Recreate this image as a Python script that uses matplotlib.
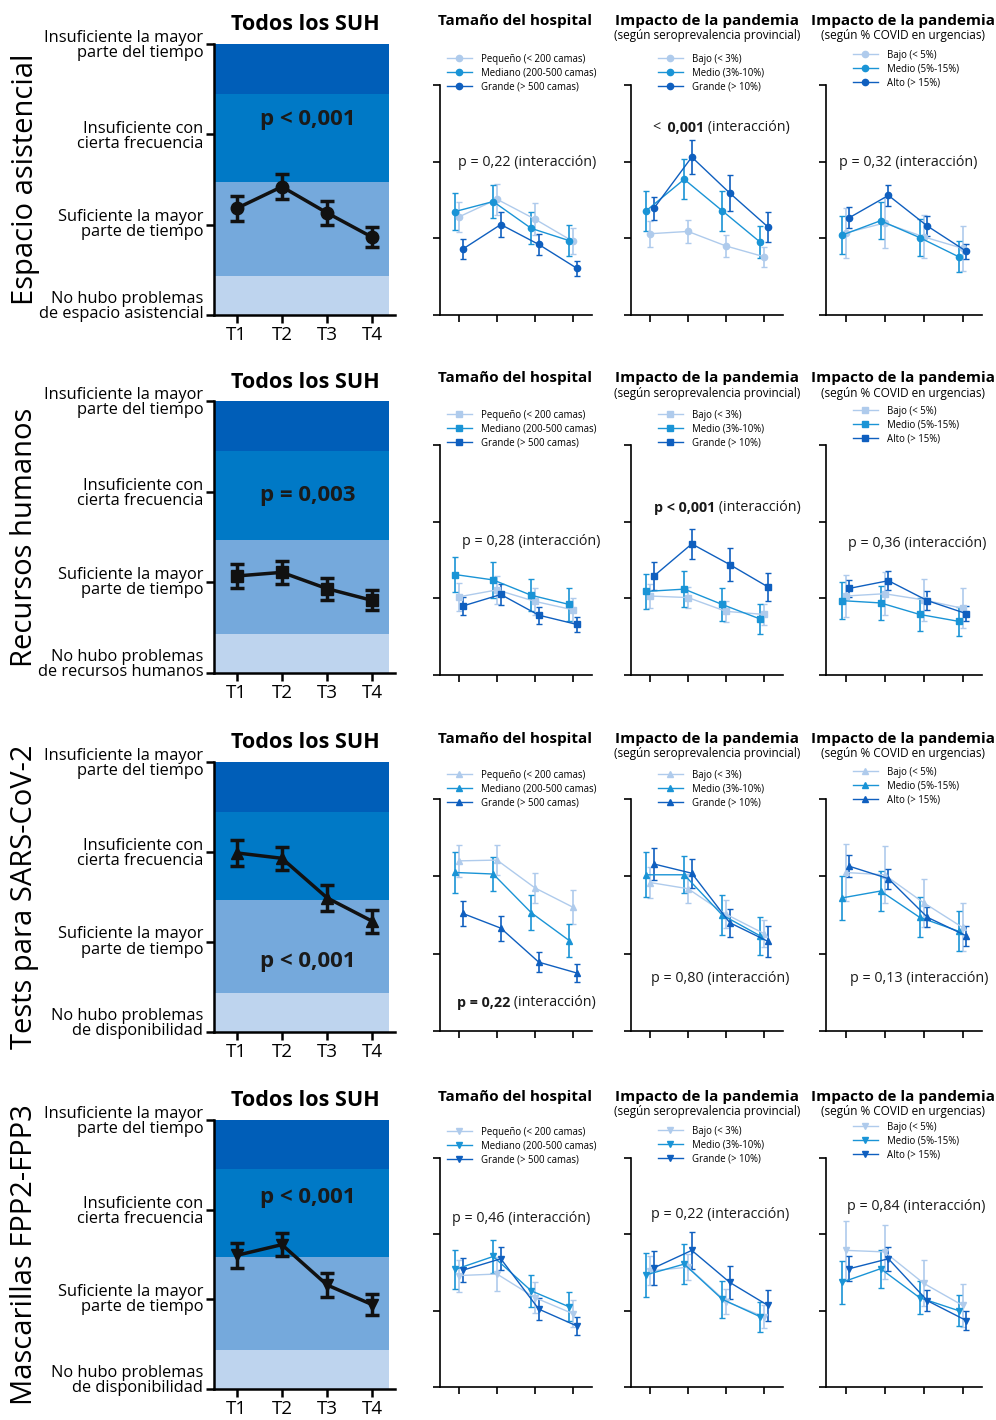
import matplotlib.pyplot as plt
import numpy as np
from matplotlib.lines import Line2D

plt.rcParams['font.family'] = ['Open Sans', 'DejaVu Sans']

W, H = 996, 1420

tiempos = ['T1', 'T2', 'T3', 'T4']
filas = ['Espacio asistencial', 'Recursos humanos', 'Tests para SARS-CoV-2', 'Mascarillas FPP2-FPP3']
marcadores = ['o', 's', '^', 'v']
p_global = ['p < 0,001', 'p = 0,003', 'p < 0,001', 'p < 0,001']

categorias = ['Insuficiente la mayor\nparte del tiempo', 'Insuficiente con\ncierta frecuencia',
              'Suficiente la mayor\nparte de tiempo']
ultima_categoria = ['No hubo problemas\nde espacio asistencial', 'No hubo problemas\nde recursos humanos',
                    'No hubo problemas\nde disponibilidad', 'No hubo problemas\nde disponibilidad']

# fondo de los paneles "Todos los SUH"
bandas = [(1.0, 1.43), (1.43, 2.47), (2.47, 3.45), (3.45, 4.0)]
bandas_color = ['#BED4EE', '#75A9DC', '#0079C6', '#005EB8']

# Todos los SUH (media, semiamplitud IC)
todos_media = [[2.18, 2.42, 2.13, 1.86], [2.07, 2.11, 1.93, 1.80],
               [2.99, 2.93, 2.49, 2.23], [2.49, 2.61, 2.16, 1.94]]
todos_err = [[0.14, 0.14, 0.13, 0.11], [0.13, 0.13, 0.12, 0.11],
             [0.14, 0.13, 0.14, 0.13], [0.14, 0.13, 0.13, 0.12]]

# Tamaño del hospital: Pequeño, Mediano, Grande
tam_media = [
    [[2.28, 2.51, 2.25, 1.96], [2.35, 2.48, 2.13, 1.97], [1.86, 2.18, 1.92, 1.61]],
    [[2.02, 2.11, 1.96, 1.85], [2.31, 2.24, 2.04, 1.92], [1.90, 2.05, 1.78, 1.66]],
    [[3.20, 3.21, 2.85, 2.60], [3.05, 3.03, 2.53, 2.17], [2.52, 2.33, 1.89, 1.75]],
    [[2.46, 2.48, 2.17, 1.96], [2.54, 2.71, 2.26, 2.05], [2.53, 2.68, 2.02, 1.80]],
]
tam_err = [
    [[0.20, 0.20, 0.21, 0.17], [0.24, 0.22, 0.21, 0.20], [0.13, 0.16, 0.14, 0.10]],
    [[0.18, 0.18, 0.18, 0.16], [0.23, 0.23, 0.21, 0.21], [0.12, 0.14, 0.11, 0.10]],
    [[0.21, 0.19, 0.19, 0.22], [0.26, 0.22, 0.23, 0.21], [0.16, 0.16, 0.13, 0.12]],
    [[0.21, 0.22, 0.20, 0.18], [0.25, 0.22, 0.21, 0.19], [0.16, 0.15, 0.14, 0.12]],
]

# Seroprevalencia provincial: Bajo, Medio, Grande
sero_media = [
    [[2.06, 2.09, 1.90, 1.76], [2.36, 2.77, 2.36, 1.95], [2.39, 3.06, 2.59, 2.15]],
    [[2.03, 2.01, 1.83, 1.79], [2.09, 2.12, 1.92, 1.73], [2.29, 2.71, 2.44, 2.15]],
    [[2.92, 2.84, 2.51, 2.26], [3.02, 3.02, 2.50, 2.23], [3.16, 3.04, 2.40, 2.16]],
    [[2.52, 2.57, 2.12, 1.92], [2.47, 2.61, 2.15, 1.92], [2.56, 2.79, 2.37, 2.07]],
]
sero_err = [
    [[0.17, 0.15, 0.14, 0.13], [0.26, 0.26, 0.26, 0.21], [0.15, 0.22, 0.23, 0.20]],
    [[0.16, 0.14, 0.14, 0.14], [0.23, 0.23, 0.22, 0.20], [0.18, 0.20, 0.22, 0.18]],
    [[0.20, 0.19, 0.18, 0.18], [0.29, 0.24, 0.26, 0.25], [0.21, 0.19, 0.18, 0.20]],
    [[0.19, 0.17, 0.16, 0.15], [0.29, 0.26, 0.24, 0.20], [0.22, 0.24, 0.22, 0.20]],
]

# % COVID en urgencias: Bajo, Medio, Alto
covid_media = [
    [[2.07, 2.20, 2.02, 1.87], [2.04, 2.23, 2.01, 1.76], [2.27, 2.56, 2.16, 1.83]],
    [[2.03, 2.06, 1.98, 1.87], [1.97, 1.94, 1.79, 1.70], [2.13, 2.23, 1.97, 1.80]],
    [[3.05, 3.02, 2.66, 2.34], [2.72, 2.81, 2.47, 2.29], [3.13, 2.97, 2.47, 2.23]],
    [[2.79, 2.77, 2.36, 2.07], [2.37, 2.55, 2.17, 2.00], [2.55, 2.68, 2.13, 1.87]],
]
covid_err = [
    [[0.32, 0.33, 0.28, 0.29], [0.25, 0.24, 0.24, 0.20], [0.14, 0.14, 0.13, 0.10]],
    [[0.28, 0.28, 0.27, 0.26], [0.24, 0.22, 0.22, 0.19], [0.11, 0.12, 0.12, 0.10]],
    [[0.37, 0.37, 0.31, 0.31], [0.29, 0.26, 0.26, 0.26], [0.14, 0.13, 0.13, 0.13]],
    [[0.38, 0.35, 0.30, 0.28], [0.28, 0.25, 0.22, 0.20], [0.16, 0.16, 0.14, 0.12]],
]

leg_tam = ['Pequeño (< 200 camas)', 'Mediano (200-500 camas)', 'Grande (> 500 camas)']
leg_sero = ['Bajo (< 3%)', 'Medio (3%-10%)', 'Grande (> 10%)']
leg_covid = ['Bajo (< 5%)', 'Medio (5%-15%)', 'Alto (> 15%)']

titulos = ['Tamaño del hospital', 'Impacto de la pandemia', 'Impacto de la pandemia']
subtitulos = ['', '(según seroprevalencia provincial)', '(según % COVID en urgencias)']

# textos de interacción: partes (texto, peso)
p_inter = [
    [[('p = 0,22 (interacción)', 'normal')],
     [('<', 'normal'), ('  0,001', 'bold'), (' (interacción)', 'normal')],
     [('p = 0,32 (interacción)', 'normal')]],
    [[('p = 0,28 (interacción)', 'normal')],
     [('p < 0,001', 'bold'), (' (interacción)', 'normal')],
     [('p = 0,36 (interacción)', 'normal')]],
    [[('p = 0,22', 'bold'), (' (interacción)', 'normal')],
     [('p = 0,80 (interacción)', 'normal')],
     [('p = 0,13 (interacción)', 'normal')]],
    [[('p = 0,46 (interacción)', 'normal')],
     [('p = 0,22 (interacción)', 'normal')],
     [('p = 0,84 (interacción)', 'normal')]],
]
p_inter_pos = [[(458, 162), (652, 128), (839, 162)],
               [(462, 541), (654, 508), (848, 544)],
               [(457, 1003), (651, 979), (850, 979)],
               [(452, 1219), (651, 1215), (847, 1206)]]

colores = ['#AFCBEC', '#1A94D6', '#0F5FBF']
desplaz = [0.0, -0.1, 0.1]

# posiciones en pixeles
big_top = [44, 401, 762, 1120]
big_bot = [315, 673, 1032, 1389]
small_top = [85, 445, 799, 1158]
small_bot = [315, 675, 1031, 1387]
col_left = [440, 631, 826]
col_right = [592, 783, 982]
leg_pos = [[(447, 73), (658, 73), (853, 69)],
           [(447, 429), (658, 429), (853, 425)],
           [(447, 789), (658, 789), (853, 786)],
           [(447, 1146), (658, 1145), (853, 1141)]]


def fx(px):
    return px / W


def fy(py):
    return 1 - py / H


def caja(l, t, r, b):
    return [fx(l), fy(b), (r - l) / W, (b - t) / H]


def texto_mixto(ax, px, py, partes, size):
    s, w = partes[0]
    t = ax.annotate(s, xy=(fx(px), fy(py)), xycoords='figure fraction', ha='left', va='center',
                    fontsize=size, fontweight=w, color='#1a1a1a', annotation_clip=False)
    for s, w in partes[1:]:
        t = ax.annotate(s, xy=(1, 0), xycoords=t, ha='left', va='bottom',
                        fontsize=size, fontweight=w, color='#1a1a1a', annotation_clip=False)


fig = plt.figure(figsize=(W / 100, H / 100), dpi=100)
x = np.arange(1, 5)

for r in range(4):
    # panel Todos los SUH
    ax = fig.add_axes(caja(214, big_top[r], 395, big_bot[r]))
    for (lo, hi), c in zip(bandas, bandas_color):
        ax.axhspan(lo, hi, xmin=0, xmax=0.967, color=c, lw=0, zorder=0)
    ax.errorbar(x, todos_media[r], yerr=todos_err[r], fmt=marcadores[r] + '-', color='#111111',
                lw=2.5, ms=9, capsize=5, capthick=2.5, elinewidth=2.5, zorder=3)
    ax.set_xlim(0.5, 4.5)
    ax.set_ylim(1, 4)
    ax.set_xticks(x)
    ax.set_xticklabels(tiempos, fontsize=13.5)
    ax.set_yticks([1, 2, 3, 4])
    ax.set_yticklabels([])
    for s in ['top', 'right']:
        ax.spines[s].set_visible(False)
    for s in ['left', 'bottom']:
        ax.spines[s].set_linewidth(1.8)
    ax.tick_params(axis='both', direction='out', length=6, width=1.8, pad=2)
    etiquetas = [ultima_categoria[r]] + categorias[::-1]
    ajustes = [0.09, 0.0, -0.02, -0.02]
    for v, lab, d in zip([1, 2, 3, 4], etiquetas, ajustes):
        ax.text(-0.06, v + d, lab, transform=ax.get_yaxis_transform(), ha='right', va='center',
                fontsize=11.8, linespacing=0.92, multialignment='right')
    fig.text(fx(305), fy(big_top[r] - 19), 'Todos los SUH', ha='center', va='center',
             fontsize=15.5, fontweight='bold')
    fig.text(fx(308), fy([119, 496, 962, 1198][r]), p_global[r], ha='center', va='center',
             fontsize=16, fontweight='bold', color='#1a1a1a')
    fig.text(fx(25), fy((big_top[r] + big_bot[r]) / 2), filas[r], rotation=90, ha='center',
             va='center', fontsize=21)

    # paneles por subgrupo
    grupos = [(tam_media[r], tam_err[r], leg_tam), (sero_media[r], sero_err[r], leg_sero),
              (covid_media[r], covid_err[r], leg_covid)]
    for c, (medias, errores, nombres) in enumerate(grupos):
        axs = fig.add_axes(caja(col_left[c], small_top[r], col_right[c], small_bot[r]))
        handles = []
        for k in range(3):
            axs.errorbar(x + desplaz[k], medias[k], yerr=errores[k], fmt=marcadores[r] + '-',
                         color=colores[k], lw=1, ms=4.5, capsize=2.2, capthick=1, elinewidth=1.2)
            handles.append(Line2D([], [], color=colores[k], marker=marcadores[r], lw=1, ms=4.5))
        axs.set_xlim(0.5, 4.5)
        axs.set_ylim(1, 4)
        axs.set_xticks(x)
        axs.set_yticks([1, 2, 3, 4])
        axs.set_xticklabels([])
        axs.set_yticklabels([])
        for s in ['top', 'right']:
            axs.spines[s].set_visible(False)
        for s in ['left', 'bottom']:
            axs.spines[s].set_linewidth(1.2)
        axs.tick_params(axis='both', direction='out', length=5, width=1.2)
        lx, ly = leg_pos[r][c]
        axs.legend(handles, nombres, loc='center left', bbox_to_anchor=(fx(lx), fy(ly)),
                   bbox_transform=fig.transFigure, frameon=False, fontsize=6.9, handlelength=2.6,
                   labelspacing=0.3, borderpad=0, borderaxespad=0, handletextpad=0.9)
        cx = [515, 707, 903][c]
        fig.text(fx(cx), fy(big_top[r] - 23), titulos[c], ha='center', va='center',
                 fontsize=11, fontweight='bold')
        if subtitulos[c]:
            fig.text(fx(cx), fy(big_top[r] - 8), subtitulos[c], ha='center', va='center', fontsize=8.5)
        px, py = p_inter_pos[r][c]
        texto_mixto(axs, px, py, p_inter[r][c], 10.3)

fig.savefig('out.png', dpi=100)
